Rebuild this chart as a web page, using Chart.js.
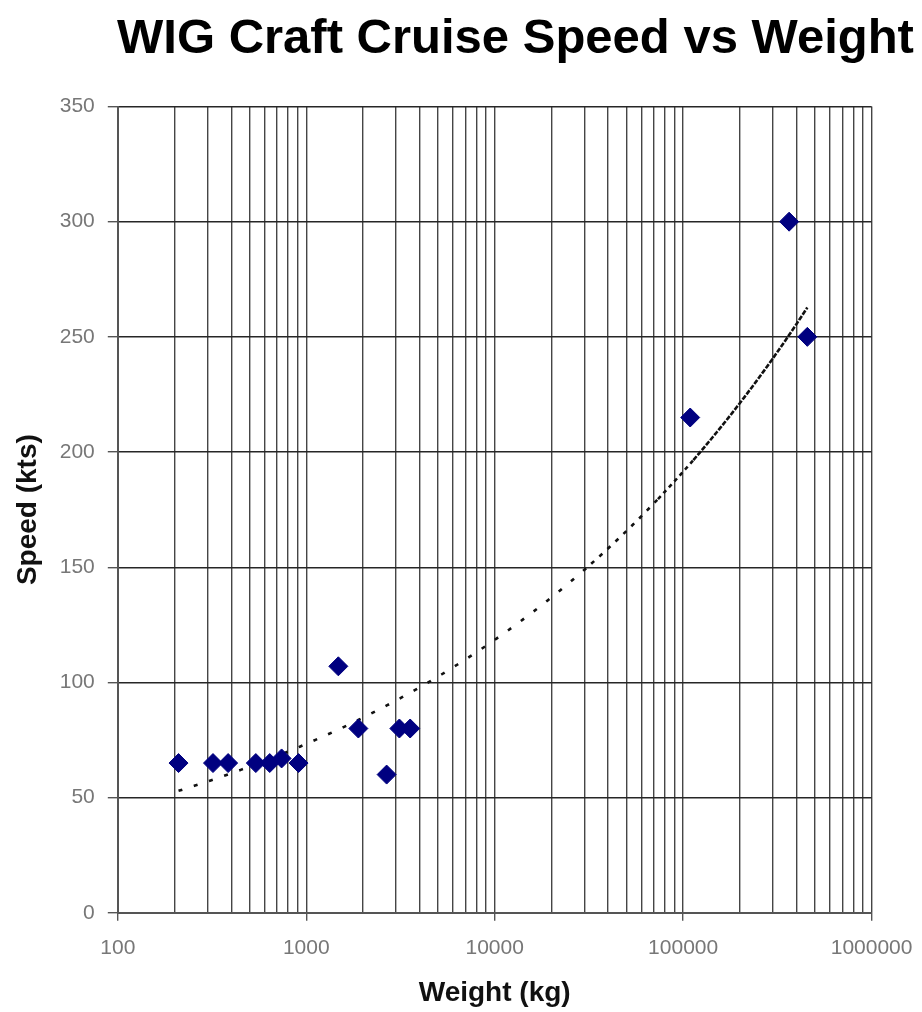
<!DOCTYPE html>
<html>
<head>
<meta charset="utf-8">
<title>WIG Craft Cruise Speed vs Weight</title>
<script src="https://cdn.jsdelivr.net/npm/chart.js@4.4.1/dist/chart.umd.min.js"></script>
<style>
  html, body { margin: 0; padding: 0; background: #ffffff; }
  #wrap { width: 922px; height: 1012px; position: relative; }
</style>
</head>
<body>
<div id="wrap"><canvas id="chart"></canvas></div>
<script>
// Craft weight (kg) and cruise speed (kts)
const craftWeightKg = [210, 320, 385, 540, 640, 740, 910, 1480, 1890, 2670, 3120, 3560, 109000, 365000, 456000];
const cruiseSpeedKts = [65, 65, 65, 65, 65, 67, 65, 107, 80, 60, 80, 80, 215, 300, 250];

// Axis ticks
const weightDecades = [100, 1000, 10000, 100000, 1000000];
const speedTicks = [0, 50, 100, 150, 200, 250, 300, 350];

const FONT = '"Liberation Sans", Arial, sans-serif';

// Log-axis grid: every 1..9 multiple inside each decade
const weightGrid = [];
weightDecades.forEach((d, i) => {
  if (i === weightDecades.length - 1) { weightGrid.push(d); return; }
  for (let m = 1; m <= 9; m++) weightGrid.push(d * m);
});

// Power trendline y = a * x^b, least squares on ln(x), ln(y)
function powerFit(xs, ys) {
  const n = xs.length;
  const lx = xs.map(Math.log), ly = ys.map(Math.log);
  const mx = lx.reduce((s, v) => s + v, 0) / n;
  const my = ly.reduce((s, v) => s + v, 0) / n;
  let sxy = 0, sxx = 0;
  for (let i = 0; i < n; i++) { sxy += (lx[i] - mx) * (ly[i] - my); sxx += (lx[i] - mx) ** 2; }
  const b = sxy / sxx;
  return { a: Math.exp(my - b * mx), b };
}
const fit = powerFit(craftWeightKg, cruiseSpeedKts);
const xLo = Math.min(...craftWeightKg), xHi = Math.max(...craftWeightKg);
const trendPoints = [];
const steps = 160;
for (let i = 0; i <= steps; i++) {
  const x = Math.exp(Math.log(xLo) + (Math.log(xHi) - Math.log(xLo)) * i / steps);
  trendPoints.push({ x, y: fit.a * Math.pow(x, fit.b) });
}

const points = craftWeightKg.map((w, i) => ({ x: w, y: cruiseSpeedKts[i] }));

const whiteBackground = {
  id: 'whiteBackground',
  beforeDraw(chart) {
    const { ctx, width, height } = chart;
    ctx.save();
    ctx.fillStyle = '#ffffff';
    ctx.fillRect(0, 0, width, height);
    ctx.restore();
  }
};

const chartTitle = {
  id: 'chartTitle',
  afterDraw(chart) {
    const ctx = chart.ctx;
    ctx.save();
    ctx.font = 'bold 49px ' + FONT;
    ctx.fillStyle = '#000000';
    ctx.textAlign = 'center';
    ctx.textBaseline = 'alphabetic';
    ctx.fillText('WIG Craft Cruise Speed vs Weight', 515.5, 53);
    ctx.restore();
  }
};

// Dotted trendline that tightens toward the heavy end
function trendDash(ctx) {
  const lx = Math.log10(ctx.p0.parsed.x);
  if (lx < 4.5) return [4, 12];
  if (lx < 4.85) return [4, 7];
  if (lx < 5.05) return [4, 4];
  return [5, 1.5];
}

new Chart(document.getElementById('chart'), {
  type: 'scatter',
  data: {
    datasets: [
      {
        label: 'Cruise speed',
        data: points,
        pointStyle: 'rectRot',
        pointRadius: 9.5,
        pointHoverRadius: 9.5,
        backgroundColor: '#000080',
        borderColor: '#000080',
        borderWidth: 1,
        order: 0
      },
      {
        label: 'Power trend',
        data: trendPoints,
        showLine: true,
        pointRadius: 0,
        borderColor: '#111111',
        borderWidth: 2.6,
        fill: false,
        segment: { borderDash: trendDash },
        order: 1
      }
    ]
  },
  options: {
    responsive: true,
    maintainAspectRatio: false,
    devicePixelRatio: 1,
    animation: false,
    events: [],
    layout: { padding: { top: 106.5, right: 50.4, bottom: 0, left: 0 } },
    plugins: {
      legend: { display: false },
      tooltip: { enabled: false },
      title: { display: false }
    },
    scales: {
      x: {
        type: 'logarithmic',
        min: 100,
        max: 1000000,
        afterBuildTicks: (s) => { s.ticks = weightGrid.map(v => ({ value: v, major: weightDecades.includes(v) })); },
        afterFit: (s) => { s.height = 99.2; s.paddingLeft = 0; s.paddingRight = 0; },
        ticks: {
          autoSkip: false,
          maxRotation: 0,
          minRotation: 0,
          padding: 14.6,
          color: '#777777',
          font: { family: FONT, size: 21 },
          callback: (v) => weightDecades.includes(v) ? String(v) : ''
        },
        grid: {
          color: '#454545',
          lineWidth: 1.4,
          tickLength: 8,
          tickColor: (ctx) => (ctx.tick && weightDecades.includes(ctx.tick.value)) ? '#555555' : 'rgba(0,0,0,0)'
        },
        border: { color: '#555555', width: 2 },
        title: {
          display: true,
          text: 'Weight (kg)',
          color: '#111111',
          font: { family: FONT, size: 28, weight: 'bold' },
          padding: { top: 0, bottom: 2 }
        }
      },
      y: {
        type: 'linear',
        min: 0,
        max: 350,
        afterBuildTicks: (s) => { s.ticks = speedTicks.map(v => ({ value: v })); },
        afterFit: (s) => { s.width = 117.8; s.paddingTop = 0; s.paddingBottom = 0; },
        ticks: {
          padding: 13,
          color: '#777777',
          font: { family: FONT, size: 21 }
        },
        grid: { color: '#262626', lineWidth: 1.4, tickLength: 10, tickColor: '#555555' },
        border: { color: '#555555', width: 2 },
        title: {
          display: true,
          text: 'Speed (kts)',
          color: '#111111',
          font: { family: FONT, size: 28, weight: 'bold' },
          padding: { top: 11, bottom: 0 }
        }
      }
    }
  },
  plugins: [whiteBackground, chartTitle]
});
</script>
</body>
</html>
